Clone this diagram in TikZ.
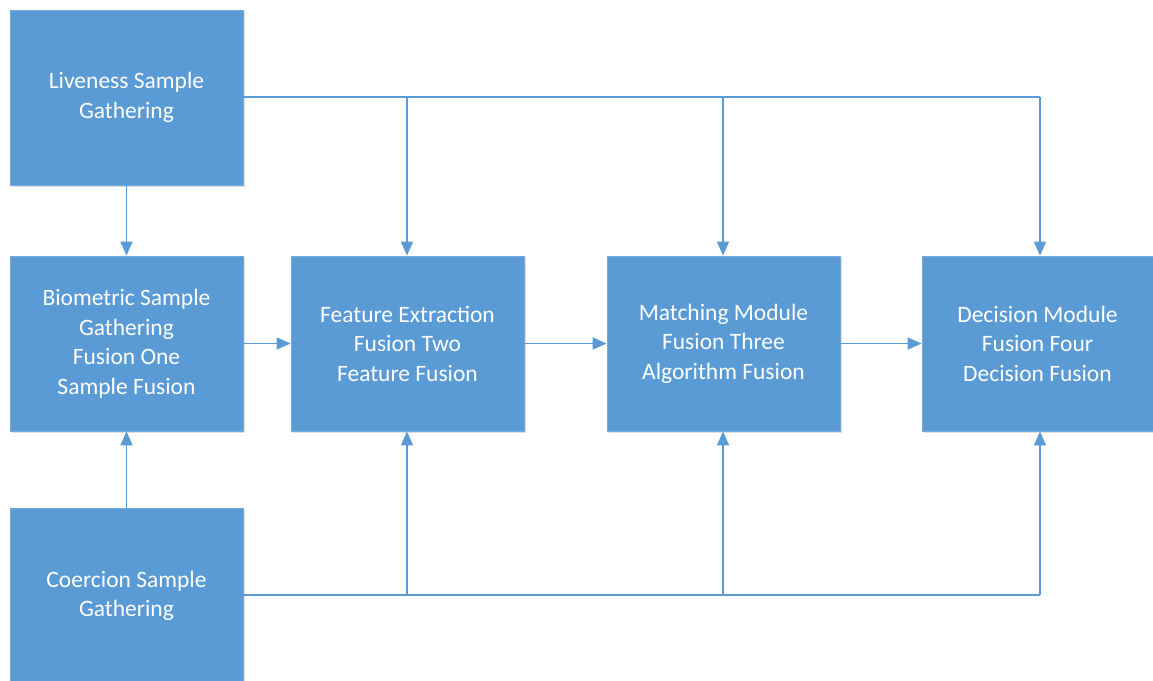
\documentclass[tikz,border=0pt]{standalone}
\usepackage{fontspec}
\setmainfont{Carlito}
\usetikzlibrary{arrows.meta,shadows}
\definecolor{boxblue}{HTML}{5B9BD5}
\definecolor{lineblue}{HTML}{5B9BD5}
\begin{document}
\begin{tikzpicture}[x=1pt,y=-1pt,
  block/.style={rectangle, fill=boxblue, draw=boxblue!85!white, line width=0.8pt,
    minimum width=233pt, minimum height=175pt, inner sep=0pt,
    text=white, align=center, font=\fontsize{23.5}{29.5}\selectfont,
    drop shadow={shadow xshift=1.5pt, shadow yshift=-1.5pt, opacity=0.25}},
  link/.style={draw=lineblue, line width=1.5pt},
  arr/.style={link, -{Triangle[length=14pt,width=12pt]}}]
\useasboundingbox (0,0) rectangle (1153,680);
% sensor-level blocks on the left
\node[block] (live) at (126.5,97.5) {Liveness Sample\\Gathering};
\node[block] (bio)  at (126.5,343.5) {Biometric Sample\\Gathering\\Fusion One\\Sample Fusion};
\node[block, minimum height=176pt] (coer) at (126.5,596) {Coercion Sample\\Gathering};
% fusion stages
\node[block] (feat) at (407.5,343.5) {Feature Extraction\\Fusion Two\\Feature Fusion};
\node[block] (match) at (723.5,343.5) {Matching Module\\Fusion Three\\Algorithm Fusion};
\node[block, minimum width=231pt] (dec) at (1037.5,343.5) {Decision Module\\Fusion Four\\Decision Fusion};
% main chain
\draw[arr] (live) -- (bio);
\draw[arr] (coer) -- (bio);
\draw[arr] (bio) -- (feat);
\draw[arr] (feat) -- (match);
\draw[arr] (match) -- (dec);
% liveness bus along the top
\coordinate (tf) at (407,97);
\coordinate (tm) at (723,97);
\coordinate (td) at (1040,97);
\draw[link] (live.east |- tf) -- (td);
\draw[arr] (tf) -- (tf |- feat.north);
\draw[arr] (tm) -- (tm |- match.north);
\draw[arr] (td) -- (td |- dec.north);
% coercion bus along the bottom
\coordinate (bf) at (407,595);
\coordinate (bm) at (723,595);
\coordinate (bd) at (1040,595);
\draw[link] (coer.east |- bf) -- (bd);
\draw[arr] (bf) -- (bf |- feat.south);
\draw[arr] (bm) -- (bm |- match.south);
\draw[arr] (bd) -- (bd |- dec.south);
\end{tikzpicture}
\end{document}
